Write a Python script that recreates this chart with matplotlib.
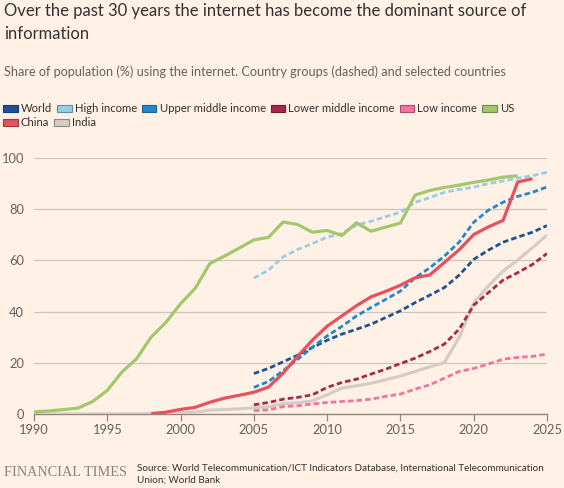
import matplotlib
matplotlib.use("Agg")
import matplotlib.pyplot as plt
from matplotlib.patches import Patch

# ---- data ----
years_us = list(range(1990, 2024))
us = [0.8, 1.2, 1.7, 2.3, 4.9, 9.2, 16.4, 21.6, 30.1, 35.8, 43.1, 49.1, 58.8, 61.7,
      64.8, 68.0, 69.0, 75.0, 74.0, 71.0, 71.7, 69.7, 74.7, 71.4, 73.0, 74.6,
      85.5, 87.3, 88.5, 89.4, 90.5, 91.4, 92.5, 93.1]

years_china = list(range(1998, 2025))
china = [0.2, 0.7, 1.8, 2.6, 4.6, 6.2, 7.3, 8.5, 10.5,
         16.0, 22.6, 28.9, 34.3, 38.3, 42.3, 45.8, 47.9, 50.3, 53.2, 54.3, 59.2,
         64.1, 70.1, 73.1, 75.6, 90.6, 91.9]

years_india = list(range(1990, 2026))
india = [0.0, 0.0, 0.0, 0.0, 0.0, 0.0, 0.1, 0.1, 0.1, 0.2, 0.5, 0.7, 1.5, 1.7,
         2.0, 2.4, 2.8, 4.0, 4.4, 5.1, 7.5, 10.1, 11.0, 12.0, 13.4, 14.8, 16.6,
         18.4, 20.1, 29.9, 43.4, 50.0, 55.8, 60.1, 64.9, 69.9]

years_groups = list(range(2005, 2026))
world = [15.8, 17.8, 20.4, 23.0, 26.0, 28.8, 31.2, 33.1, 35.1, 37.7, 40.3, 43.5,
         46.4, 49.4, 54.2, 60.4, 64.0, 67.1, 69.1, 71.0, 73.6]
high_income = [53.1, 56.2, 61.4, 64.3, 66.6, 69.1, 70.5, 73.8, 75.3, 77.1, 78.8,
               82.7, 84.5, 86.6, 87.7, 88.6, 90.0, 91.0, 92.1, 93.1, 94.4]
upper_middle = [10.4, 12.7, 16.9, 21.4, 26.1, 30.5, 34.2, 38.3, 41.6, 44.8, 48.0,
                53.2, 57.1, 61.7, 67.1, 74.9, 79.6, 82.7, 85.0, 86.6, 88.7]
lower_middle = [3.6, 4.5, 5.8, 6.5, 7.5, 10.4, 12.3, 13.6, 15.6, 17.5, 19.7, 21.8,
                24.4, 27.3, 33.1, 42.5, 47.4, 52.3, 55.2, 58.4, 62.7]
low_income = [1.3, 1.6, 2.9, 3.2, 3.9, 4.5, 4.9, 5.2, 5.8, 6.9, 7.8, 9.7, 11.4,
              14.0, 16.6, 17.8, 19.5, 21.4, 22.1, 22.5, 23.4]

x_ticks = [1990, 1995, 2000, 2005, 2010, 2015, 2020, 2025]
y_ticks = [0, 20, 40, 60, 80, 100]

# ---- style ----
BG = "#fff1e5"
TXT = "#33302e"
SUB = "#66605c"
GRID = "#cfc5bb"
C = {
    "World": "#1f5290",
    "High income": "#98cde6",
    "Upper middle income": "#2089cc",
    "Lower middle income": "#a8284f",
    "Low income": "#f4739f",
    "US": "#a3c86c",
    "China": "#e8505e",
    "India": "#d6ccc3",
}
EDGE = {
    "World": "#163c6a",
    "High income": "#5f8fa6",
    "Upper middle income": "#176295",
    "Lower middle income": "#6e1a35",
    "Low income": "#a84f6f",
    "US": "#6f8a48",
    "China": "#a03840",
    "India": "#8f8781",
}

plt.rcParams["font.family"] = ["Lato", "DejaVu Sans"]

fig = plt.figure(figsize=(5.64, 4.88), dpi=100, facecolor=BG)
ax = fig.add_axes([34/564, 1-414/488, (547-34)/564, (414-158)/488], facecolor=BG)

dash = (0, (2.0, 1.1))
lw_s = 2.3
lw_d = 2.0

ax.plot(years_india, india, color=C["India"], lw=lw_s, solid_capstyle="butt", zorder=3)
ax.plot(years_groups, low_income, color=C["Low income"], lw=lw_d, ls=dash, zorder=3)
ax.plot(years_groups, lower_middle, color=C["Lower middle income"], lw=lw_d, ls=dash, zorder=3)
ax.plot(years_groups, world, color=C["World"], lw=lw_d, ls=dash, zorder=3)
ax.plot(years_groups, upper_middle, color=C["Upper middle income"], lw=lw_d, ls=dash, zorder=3)
ax.plot(years_groups, high_income, color=C["High income"], lw=lw_d, ls=dash, zorder=3)
ax.plot(years_us, us, color=C["US"], lw=lw_s, solid_capstyle="butt", zorder=4)
ax.plot(years_china, china, color=C["China"], lw=lw_s, solid_capstyle="butt", zorder=4)

ax.set_xlim(1990, 2025)
ax.set_ylim(0, 100)
ax.set_xticks(x_ticks)
ax.set_yticks(y_ticks)
ax.grid(axis="y", color=GRID, lw=0.9, zorder=0)
for s in ["top", "right", "left"]:
    ax.spines[s].set_visible(False)
ax.spines["bottom"].set_color("#8e8880")
ax.spines["bottom"].set_linewidth(1.0)
ax.tick_params(axis="y", length=0, pad=7, labelsize=9.3, labelcolor=SUB)
ax.tick_params(axis="x", length=5, width=0.9, color="#8e8880", pad=2,
               labelsize=9.3, labelcolor=SUB)

# ---- titles ----
fig.text(4/564, 1-11/488, "Over the past 30 years the internet has become the dominant source of",
         fontsize=12.0, color=TXT, va="center", ha="left")
fig.text(4/564, 1-34/488, "information", fontsize=12.0, color=TXT, va="center", ha="left")
fig.text(4/564, 1-72/488,
         "Share of population (%) using the internet. Country groups (dashed) and selected countries",
         fontsize=9.05, color=SUB, va="center", ha="left")

# ---- legend ----
names = list(C.keys())
handles = [Patch(facecolor=C[n], edgecolor=EDGE[n], lw=0.8, label=n) for n in names]
leg_kw = dict(frameon=False, fontsize=8.15, handlelength=1.3, handleheight=0.6,
              handletextpad=0.28, columnspacing=0.42, borderaxespad=0,
              borderpad=0, labelcolor=TXT)
fig.legend(handles=handles[:6], ncol=6, loc="center left",
           bbox_to_anchor=(3/564, 1-109/488), **leg_kw)
fig.legend(handles=handles[6:], ncol=2, loc="center left",
           bbox_to_anchor=(3/564, 1-123/488), **leg_kw)

# ---- footer ----
fig.text(4/564, 1-472/488, "FINANCIAL TIMES", fontsize=10.25, color="#8a837d",
         family=["Liberation Serif", "DejaVu Serif"], va="center", ha="left")
fig.text(137/564, 1-468/488,
         "Source: World Telecommunication/ICT Indicators Database, International Telecommunication",
         fontsize=7.1, color=TXT, va="center", ha="left")
fig.text(137/564, 1-480/488, "Union; World Bank", fontsize=7.1, color=TXT,
         va="center", ha="left")

fig.savefig("out.png", dpi=100, facecolor=BG)
